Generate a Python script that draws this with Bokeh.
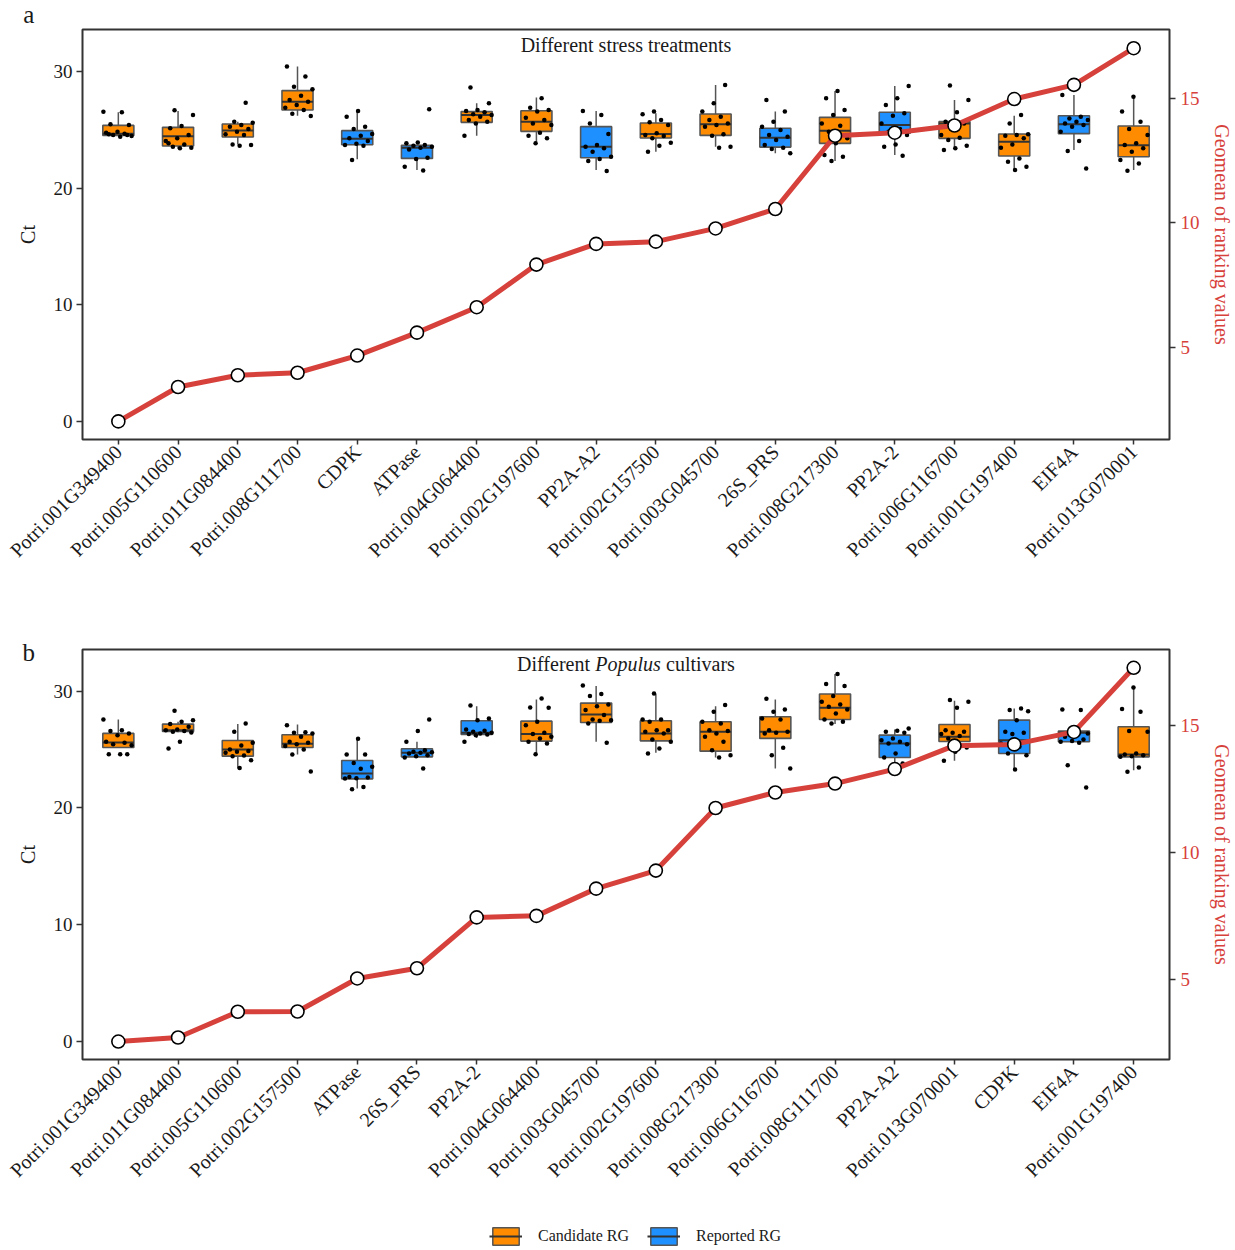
import math

from bokeh.embed import file_html
from bokeh.layouts import column
from bokeh.models import (FactorRange, FixedTicker, Label, Legend, LegendItem,
                          LinearAxis, Range1d)
from bokeh.plotting import figure
from bokeh.resources import INLINE

SERIF = "Liberation Serif"
ORANGE = "#FF8C00"
BLUE = "#1E90FF"
RED = "#D7413B"
FRAME = "#333333"
BOX_LINE = "#555555"

reported_rg = ["CDPK", "ATPase", "PP2A-A2", "26S_PRS", "PP2A-2", "EIF4A"]

# ---------------- panel a: different stress treatments ----------------
genes_a = ["Potri.001G349400", "Potri.005G110600", "Potri.011G084400", "Potri.008G111700",
           "CDPK", "ATPase", "Potri.004G064400", "Potri.002G197600", "PP2A-A2",
           "Potri.002G157500", "Potri.003G045700", "26S_PRS", "Potri.008G217300", "PP2A-2",
           "Potri.006G116700", "Potri.001G197400", "EIF4A", "Potri.013G070001"]
geomean_a = [2.03, 3.41, 3.88, 3.98, 4.67, 5.59, 6.61, 8.32, 9.15, 9.24, 9.77, 10.55,
             13.49, 13.61, 13.90, 14.96, 15.53, 17.00]
q1_a = [24.52, 23.61, 24.38, 26.70, 23.72, 22.55, 25.64, 24.87, 22.61, 24.30, 24.52, 23.52,
        23.84, 24.70, 24.27, 22.75, 24.67, 22.69]
med_a = [24.67, 24.44, 24.95, 27.41, 24.24, 23.47, 26.27, 25.70, 23.55, 24.64, 25.47, 24.32,
         24.93, 25.41, 25.55, 23.98, 25.47, 23.67]
q3_a = [25.38, 25.21, 25.50, 28.36, 24.93, 23.67, 26.56, 26.64, 25.27, 25.58, 26.36, 25.13,
        26.07, 26.50, 25.70, 24.64, 26.21, 25.33]
lo_a = [24.52, 23.41, 23.75, 26.21, 22.47, 21.55, 24.50, 23.98, 21.55, 23.12, 23.55, 22.98,
        22.32, 22.84, 23.35, 21.46, 23.27, 21.55]
hi_a = [26.50, 26.61, 25.70, 30.42, 26.56, 23.67, 27.27, 27.76, 26.61, 26.41, 28.84, 26.56,
        28.33, 28.76, 27.56, 26.21, 27.99, 27.79]
ct_a = [
    [26.55, 26.50, 25.47, 25.41, 24.84, 24.75, 24.67, 24.55, 24.47, 24.41, 24.61, 24.55],
    [26.67, 26.27, 25.33, 25.13, 24.55, 24.27, 24.04, 23.75, 23.55, 23.47, 23.41, 23.84],
    [27.33, 25.70, 25.61, 25.41, 25.27, 25.07, 24.84, 24.61, 24.55, 23.75, 23.70, 23.64],
    [30.42, 29.56, 28.70, 28.47, 27.93, 27.56, 27.41, 27.13, 26.90, 26.70, 26.38, 26.18],
    [26.61, 26.13, 25.27, 25.07, 24.64, 24.50, 24.27, 24.04, 23.81, 23.70, 23.64, 22.41],
    [26.76, 23.92, 23.84, 23.70, 23.64, 23.55, 23.47, 23.32, 22.61, 22.49, 21.84, 21.52],
    [28.62, 27.27, 26.70, 26.61, 26.50, 26.33, 26.27, 26.13, 25.84, 25.70, 25.55, 24.50],
    [27.70, 26.90, 26.70, 26.56, 26.04, 25.84, 25.55, 25.41, 24.75, 24.50, 24.27, 23.84],
    [26.61, 26.27, 25.55, 24.64, 23.70, 23.55, 23.41, 23.12, 22.69, 22.49, 22.32, 21.46],
    [26.56, 26.33, 25.84, 25.64, 25.41, 24.70, 24.55, 24.47, 24.27, 23.90, 23.64, 23.12],
    [28.84, 27.27, 26.56, 26.13, 25.84, 25.55, 25.41, 25.27, 24.61, 24.50, 23.55, 23.47],
    [27.56, 26.56, 25.70, 25.27, 24.98, 24.55, 24.41, 24.12, 23.70, 23.47, 23.35, 22.98],
    [28.33, 27.70, 26.70, 26.27, 25.55, 25.35, 24.84, 24.27, 23.84, 22.84, 22.69, 22.32],
    [28.76, 27.70, 27.13, 26.41, 26.21, 25.55, 25.07, 24.84, 24.55, 23.75, 23.55, 22.78],
    [28.79, 27.56, 26.50, 25.70, 25.55, 25.41, 24.55, 24.32, 24.12, 23.64, 23.41, 23.27],
    [26.27, 25.55, 24.61, 24.55, 24.50, 24.27, 23.75, 23.47, 22.55, 22.27, 21.84, 21.55],
    [27.99, 26.13, 25.98, 25.84, 25.70, 25.55, 25.41, 25.27, 24.84, 24.04, 23.18, 21.69],
    [27.84, 26.56, 25.70, 25.07, 24.55, 23.84, 23.70, 23.41, 23.12, 22.41, 22.12, 21.49],
]

# ---------------- panel b: different Populus cultivars ----------------
genes_b = ["Potri.001G349400", "Potri.011G084400", "Potri.005G110600", "Potri.002G157500",
           "ATPase", "26S_PRS", "PP2A-2", "Potri.004G064400", "Potri.003G045700",
           "Potri.002G197600", "Potri.008G217300", "Potri.006G116700", "Potri.008G111700",
           "PP2A-A2", "Potri.013G070001", "CDPK", "EIF4A", "Potri.001G197400"]
geomean_b = [2.58, 2.74, 3.75, 3.76, 5.06, 5.46, 7.46, 7.52, 8.59, 9.30, 11.76, 12.37,
             12.72, 13.29, 14.21, 14.26, 14.75, 17.27]
q1_b = [25.19, 26.57, 24.45, 25.19, 22.50, 24.39, 26.31, 25.74, 27.34, 25.76, 24.88, 25.97,
        27.60, 24.33, 25.71, 24.68, 25.68, 24.39]
med_b = [25.62, 26.68, 25.02, 25.51, 22.96, 24.73, 26.45, 26.34, 28.03, 26.40, 26.54, 26.54,
         28.60, 25.54, 26.11, 25.82, 26.45, 24.59]
q3_b = [26.40, 27.20, 25.79, 26.28, 24.07, 25.08, 27.48, 27.45, 29.00, 27.48, 27.40, 27.83,
        29.78, 26.25, 27.17, 27.54, 26.60, 26.97]
lo_b = [25.19, 26.50, 23.39, 24.60, 21.67, 24.39, 26.00, 24.62, 25.68, 24.73, 24.33, 23.39,
        27.20, 23.82, 24.05, 23.30, 25.68, 23.24]
hi_b = [27.60, 27.40, 27.20, 27.17, 25.94, 25.68, 28.74, 29.32, 30.46, 29.78, 28.74, 29.32,
        31.50, 26.74, 29.20, 28.54, 26.60, 30.26]
ct_b = [
    [27.60, 26.68, 26.60, 26.40, 26.25, 25.68, 25.59, 25.48, 25.39, 24.62, 24.62, 24.62],
    [28.34, 27.54, 27.40, 27.20, 26.97, 26.74, 26.68, 26.60, 26.54, 26.48, 25.68, 25.10],
    [27.26, 26.54, 25.59, 25.36, 25.02, 24.90, 24.82, 24.73, 24.50, 24.45, 24.10, 23.44],
    [27.11, 26.51, 26.45, 26.40, 26.11, 25.68, 25.59, 25.48, 25.31, 25.02, 24.59, 23.13],
    [25.94, 24.59, 24.59, 23.87, 23.53, 23.36, 22.67, 22.61, 22.55, 22.53, 21.81, 21.61],
    [27.60, 26.60, 25.68, 24.96, 24.82, 24.79, 24.73, 24.68, 24.53, 24.45, 24.33, 23.39],
    [28.80, 27.68, 27.54, 26.74, 26.63, 26.54, 26.45, 26.40, 26.34, 26.31, 26.25, 25.68],
    [29.40, 28.63, 28.60, 27.40, 27.11, 26.45, 26.34, 26.11, 25.97, 25.68, 25.54, 24.62],
    [30.52, 29.78, 29.60, 28.89, 28.74, 28.40, 27.97, 27.60, 27.54, 27.48, 27.26, 25.59],
    [29.83, 27.60, 27.60, 27.40, 26.68, 26.68, 26.54, 26.40, 25.88, 25.68, 25.10, 24.68],
    [28.83, 28.26, 27.40, 27.26, 26.68, 26.60, 26.40, 26.11, 25.68, 24.96, 24.53, 24.33],
    [29.38, 28.46, 28.26, 27.68, 27.60, 26.68, 26.54, 26.45, 26.40, 25.16, 24.53, 23.39],
    [31.50, 30.64, 30.46, 29.60, 29.12, 28.89, 28.69, 28.46, 28.11, 27.60, 27.40, 27.26],
    [26.82, 26.63, 26.54, 26.45, 25.97, 25.82, 25.68, 25.54, 25.48, 24.68, 24.33, 23.82],
    [29.26, 29.12, 28.60, 26.68, 26.54, 26.45, 26.34, 26.17, 25.97, 25.19, 24.82, 24.05],
    [28.54, 28.40, 28.31, 27.54, 26.54, 26.45, 26.34, 25.54, 25.25, 24.68, 24.53, 23.30],
    [28.46, 28.40, 26.54, 26.40, 26.25, 26.11, 25.88, 25.74, 25.68, 25.59, 23.67, 21.75],
    [30.35, 28.49, 28.26, 26.60, 26.54, 24.68, 24.59, 24.53, 24.45, 24.39, 23.47, 23.10],
]

ct_ticks = [0, 10, 20, 30]
geo_ticks = [5, 10, 15]

BOX_W = 0.52


def spread(i, k):
    """Deterministic horizontal scatter for the k-th point of box i."""
    return ((k * 0.6180339 + i * 0.3819660) % 1.0 - 0.5) * 0.5


def make_panel(genes, geo, q1, med, q3, lo, hi, pts, ct_rng, geo_rng,
               height, border_bottom, letter_y, letter):
    n = len(genes)
    xr = FactorRange(factors=genes, range_padding=0.2 / n)
    p = figure(width=1235, height=height, x_range=xr, y_range=Range1d(*ct_rng),
               output_backend="svg", toolbar_location=None,
               min_border_left=82, min_border_right=65, min_border_top=29,
               min_border_bottom=border_bottom, background_fill_color="white",
               border_fill_color="white")
    p.extra_y_ranges = {"geo": Range1d(*geo_rng)}
    p.xgrid.visible = False
    p.ygrid.visible = False
    p.outline_line_color = FRAME
    p.outline_line_width = 2

    xc = [i + 0.5 for i in range(n)]
    colors = [BLUE if g in reported_rg else ORANGE for g in genes]

    # whiskers
    p.segment(x0=xc, x1=xc, y0=lo, y1=q1, line_color=BOX_LINE, line_width=1.5)
    p.segment(x0=xc, x1=xc, y0=q3, y1=hi, line_color=BOX_LINE, line_width=1.5)
    # boxes
    p.vbar(x=xc, width=BOX_W, bottom=q1, top=q3, fill_color=colors,
           line_color=BOX_LINE, line_width=1.6)
    # medians
    p.segment(x0=[x - BOX_W / 2 for x in xc], x1=[x + BOX_W / 2 for x in xc],
              y0=med, y1=med, line_color=FRAME, line_width=2)

    # individual Ct values
    px, py = [], []
    for i, vals in enumerate(pts):
        for k, v in enumerate(vals):
            px.append(xc[i] + spread(i, k))
            py.append(v)
    p.scatter(px, py, size=4.5, fill_color="black", line_color="black", line_width=0)

    # geomean of ranking values on the secondary axis
    p.line(xc, geo, y_range_name="geo", line_color=RED, line_width=5)
    p.scatter(xc, geo, y_range_name="geo", size=13, fill_color="white",
              line_color="black", line_width=1.6)

    # axes
    xa = p.xaxis[0]
    xa.major_label_orientation = math.pi / 4
    xa.major_label_text_font = SERIF
    xa.major_label_text_font_size = "20px"
    xa.major_label_text_color = "#1a1a1a"
    xa.axis_line_color = None
    xa.major_tick_line_color = FRAME
    xa.major_tick_line_width = 1.5
    xa.major_tick_in = 0
    xa.major_tick_out = 5
    xa.major_label_standoff = 4

    ya = p.yaxis[0]
    ya.ticker = FixedTicker(ticks=ct_ticks)
    ya.axis_label = "Ct"
    ya.axis_label_text_font = SERIF
    ya.axis_label_text_font_size = "20px"
    ya.axis_label_text_font_style = "normal"
    ya.axis_label_text_color = "#1a1a1a"
    ya.axis_label_standoff = 12
    ya.major_label_text_font = SERIF
    ya.major_label_text_font_size = "19px"
    ya.major_label_text_color = "#1a1a1a"
    ya.major_label_standoff = 4
    ya.axis_line_color = None
    ya.major_tick_line_color = FRAME
    ya.major_tick_line_width = 1.5
    ya.major_tick_in = 0
    ya.major_tick_out = 6
    ya.minor_tick_line_color = None

    ra = LinearAxis(y_range_name="geo", ticker=FixedTicker(ticks=geo_ticks),
                    axis_label="Geomean of ranking values")
    ra.axis_label_text_font = SERIF
    ra.axis_label_text_font_size = "20px"
    ra.axis_label_text_font_style = "normal"
    ra.axis_label_text_color = RED
    ra.axis_label_standoff = 8
    ra.major_label_text_font = SERIF
    ra.major_label_text_font_size = "19px"
    ra.major_label_text_color = RED
    ra.major_label_standoff = 5
    ra.axis_line_color = None
    ra.major_tick_line_color = FRAME
    ra.major_tick_line_width = 1.5
    ra.major_tick_in = 0
    ra.major_tick_out = 6
    ra.minor_tick_line_color = None
    p.add_layout(ra, "right")

    # panel letter in the left margin, positioned through the data scales
    p.add_layout(Label(x=-1.0, y=letter_y, text=letter, text_font=SERIF,
                       text_font_size="25px", text_align="center",
                       text_baseline="alphabetic", text_color="#1a1a1a"), "left")
    return p


# panel a
fig_a = make_panel(genes_a, geomean_a, q1_a, med_a, q3_a, lo_a, hi_a, ct_a,
                   (-1.55, 33.6), (1.303, 17.75), 620, 181, 34.85, "a")
fig_a.add_layout(Label(x=9.0, y=32.3, text="Different stress treatments",
                       text_font=SERIF, text_font_size="20px", text_align="center",
                       text_baseline="alphabetic", text_color="#1a1a1a"))

# panel b
fig_b = make_panel(genes_b, geomean_b, q1_b, med_b, q3_b, lo_b, hi_b, ct_b,
                   (-1.58, 33.6), (1.874, 17.99), 600, 161, 33.36, "b")
title_y = 32.35
fig_b.add_layout(Label(x=9.0, y=title_y, x_offset=-36, text="Different",
                       text_font=SERIF, text_font_size="20px", text_align="right",
                       text_baseline="alphabetic", text_color="#1a1a1a"))
fig_b.add_layout(Label(x=9.0, y=title_y, x_offset=2, text="Populus",
                       text_font=SERIF, text_font_size="20px", text_font_style="italic",
                       text_align="center", text_baseline="alphabetic", text_color="#1a1a1a"))
fig_b.add_layout(Label(x=9.0, y=title_y, x_offset=40, text="cultivars",
                       text_font=SERIF, text_font_size="20px", text_align="left",
                       text_baseline="alphabetic", text_color="#1a1a1a"))

# shared legend; its swatch renderers hold no drawable data
nan = float("nan")
fig_leg = figure(width=1235, height=30, x_range=Range1d(0, 1), y_range=Range1d(0, 1),
                 output_backend="svg", toolbar_location=None, min_border=0,
                 outline_line_color=None, background_fill_color="white",
                 border_fill_color="white")
fig_leg.axis.visible = False
fig_leg.grid.visible = False
cand_box = fig_leg.vbar(x=[nan], top=[nan], bottom=[nan], width=0.1, fill_color=ORANGE,
                        line_color=BOX_LINE, line_width=1.5)
cand_med = fig_leg.segment(x0=[nan], x1=[nan], y0=[nan], y1=[nan],
                           line_color=FRAME, line_width=2)
rep_box = fig_leg.vbar(x=[nan], top=[nan], bottom=[nan], width=0.1, fill_color=BLUE,
                       line_color=BOX_LINE, line_width=1.5)
rep_med = fig_leg.segment(x0=[nan], x1=[nan], y0=[nan], y1=[nan],
                          line_color=FRAME, line_width=2)
legend = Legend(items=[LegendItem(label="Candidate RG", renderers=[cand_box, cand_med]),
                       LegendItem(label="Reported RG", renderers=[rep_box, rep_med])],
                orientation="horizontal", location=(407, 3), glyph_width=33,
                glyph_height=22, label_standoff=16, spacing=18, padding=0, margin=0,
                border_line_color=None, background_fill_alpha=0,
                label_text_font=SERIF, label_text_font_size="16px",
                label_text_color="#1a1a1a")
fig_leg.add_layout(legend)

layout = column(fig_a, fig_b, fig_leg, spacing=0)
open("out.html", "w").write(file_html(layout, INLINE))
